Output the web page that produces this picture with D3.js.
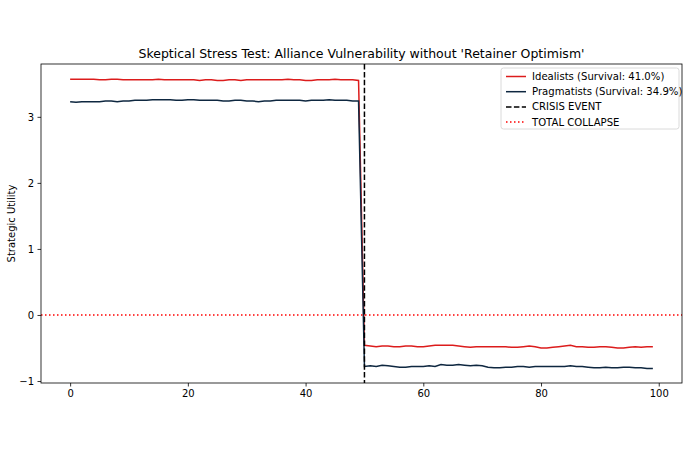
<!DOCTYPE html>
<html>
<head>
<meta charset="utf-8">
<script src="https://cdn.jsdelivr.net/npm/d3@7"></script>
<style>
body { margin: 0; background: #fff; }
text { font-family: "DejaVu Sans", sans-serif; }
</style>
</head>
<body>
<script>
var w = 690;
var h = 450;
var margin = {top: 64, right: 8, bottom: 67, left: 41};

var steps = d3.range(0, 100);
var crisisStep = 50;

var idealists = [
  3.57, 3.57, 3.57, 3.57, 3.57, 3.56, 3.56, 3.57, 3.57, 3.56,
  3.56, 3.56, 3.56, 3.56, 3.56, 3.57, 3.56, 3.56, 3.56, 3.56,
  3.56, 3.56, 3.55, 3.56, 3.56, 3.55, 3.55, 3.56, 3.56, 3.55,
  3.56, 3.56, 3.56, 3.56, 3.56, 3.56, 3.56, 3.57, 3.56, 3.56,
  3.55, 3.55, 3.56, 3.56, 3.56, 3.57, 3.56, 3.56, 3.56, 3.55,
  -0.46, -0.47, -0.48, -0.47, -0.47, -0.48, -0.48, -0.47, -0.47, -0.48,
  -0.48, -0.47, -0.46, -0.46, -0.46, -0.46, -0.47, -0.48, -0.49, -0.48,
  -0.48, -0.48, -0.48, -0.48, -0.48, -0.49, -0.49, -0.48, -0.47, -0.48,
  -0.50, -0.50, -0.49, -0.48, -0.47, -0.46, -0.48, -0.48, -0.49, -0.49,
  -0.48, -0.48, -0.49, -0.50, -0.50, -0.49, -0.48, -0.49, -0.48, -0.48
];

var pragmatists = [
  3.23, 3.22, 3.23, 3.23, 3.23, 3.23, 3.24, 3.24, 3.23, 3.24,
  3.24, 3.25, 3.25, 3.25, 3.26, 3.26, 3.26, 3.26, 3.25, 3.25,
  3.26, 3.26, 3.25, 3.25, 3.25, 3.25, 3.24, 3.24, 3.25, 3.25,
  3.24, 3.24, 3.23, 3.24, 3.24, 3.25, 3.25, 3.25, 3.25, 3.25,
  3.24, 3.25, 3.25, 3.25, 3.26, 3.25, 3.25, 3.25, 3.24, 3.24,
  -0.78, -0.77, -0.78, -0.76, -0.77, -0.78, -0.79, -0.79, -0.78, -0.78,
  -0.78, -0.77, -0.78, -0.75, -0.76, -0.76, -0.75, -0.76, -0.77, -0.76,
  -0.77, -0.79, -0.80, -0.80, -0.79, -0.79, -0.78, -0.78, -0.79, -0.78,
  -0.78, -0.78, -0.78, -0.78, -0.78, -0.77, -0.78, -0.78, -0.79, -0.80,
  -0.80, -0.79, -0.80, -0.80, -0.79, -0.79, -0.80, -0.80, -0.81, -0.81
];

var legendLabels = [
  "Idealists (Survival: 41.0%)",
  "Pragmatists (Survival: 34.9%)",
  "CRISIS EVENT",
  "TOTAL COLLAPSE"
];
var xTicks = [0, 20, 40, 60, 80, 100];
var yTicks = [-1, 0, 1, 2, 3];

var red = "#dc1c1c";
var navy = "#0e2740";

var xScale = d3.scaleLinear()
  .domain([-4.95, 103.95])
  .range([margin.left, w - margin.right]);

var yScale = d3.scaleLinear()
  .domain([-1.03, 3.80])
  .range([h - margin.bottom, margin.top]);

var svg = d3.select("body")
  .append("svg")
  .attr("width", w)
  .attr("height", h);

svg.append("clipPath").attr("id", "plot")
  .append("rect")
  .attr("x", margin.left)
  .attr("y", margin.top)
  .attr("width", w - margin.left - margin.right)
  .attr("height", h - margin.top - margin.bottom);

var plot = svg.append("g").attr("clip-path", "url(#plot)");

var line = d3.line()
  .x(function(d, i){ return xScale(steps[i]); })
  .y(function(d){ return yScale(d); });

plot.append("path")
  .datum(idealists)
  .attr("d", line)
  .attr("fill", "none")
  .attr("stroke", red)
  .attr("stroke-width", 1.5);

plot.append("path")
  .datum(pragmatists)
  .attr("d", line)
  .attr("fill", "none")
  .attr("stroke", navy)
  .attr("stroke-width", 1.5);

// crisis marker and collapse threshold
plot.append("line")
  .attr("x1", xScale(crisisStep)).attr("x2", xScale(crisisStep))
  .attr("y1", margin.top).attr("y2", h - margin.bottom)
  .attr("stroke", "#000")
  .attr("stroke-width", 1.5)
  .attr("stroke-dasharray", "5.5,2.4");

plot.append("line")
  .attr("x1", margin.left).attr("x2", w - margin.right)
  .attr("y1", yScale(0)).attr("y2", yScale(0))
  .attr("stroke", "#ff0000")
  .attr("stroke-width", 1.5)
  .attr("stroke-dasharray", "1.5,2.5");

var xAxis = d3.axisBottom(xScale).tickValues(xTicks).tickSize(3.5).tickPadding(3.5);
var yAxis = d3.axisLeft(yScale).tickValues(yTicks).tickSize(3.5).tickPadding(3.5)
  .tickFormat(function(d){ return d < 0 ? "\u2212" + Math.abs(d) : d; });

var gx = svg.append("g")
  .attr("transform", "translate(0," + (h - margin.bottom) + ")")
  .call(xAxis);
var gy = svg.append("g")
  .attr("transform", "translate(" + margin.left + ",0)")
  .call(yAxis);

[gx, gy].forEach(function(g){
  g.select(".domain").remove();
  g.selectAll("text").attr("font-size", "10px").attr("fill", "#000")
    .attr("font-family", "DejaVu Sans, sans-serif");
  g.selectAll("line").attr("stroke", "#000").attr("stroke-width", 0.8);
});

svg.append("rect")
  .attr("x", margin.left)
  .attr("y", margin.top)
  .attr("width", w - margin.left - margin.right)
  .attr("height", h - margin.top - margin.bottom)
  .attr("fill", "none")
  .attr("stroke", "#000")
  .attr("stroke-width", 0.8);

svg.append("text")
  .attr("x", (margin.left + w - margin.right) / 2)
  .attr("y", 58)
  .attr("text-anchor", "middle")
  .attr("font-size", "12.5px")
  .text("Skeptical Stress Test: Alliance Vulnerability without 'Retainer Optimism'");

svg.append("text")
  .attr("transform", "translate(15," + ((margin.top + h - margin.bottom) / 2) + ") rotate(-90)")
  .attr("text-anchor", "middle")
  .attr("font-size", "10px")
  .text("Strategic Utility");

// legend
var legend = svg.append("g");
legend.append("rect")
  .attr("x", 501).attr("y", 68)
  .attr("width", 178).attr("height", 61)
  .attr("rx", 2.5)
  .attr("fill", "#fff").attr("fill-opacity", 0.8)
  .attr("stroke", "#d0d0d0").attr("stroke-width", 0.8);

var legendStyles = [
  {color: red, dash: null},
  {color: navy, dash: null},
  {color: "#000", dash: "5.5,2.4"},
  {color: "#ff0000", dash: "1.5,2.5"}
];

legend.selectAll("line")
  .data(legendLabels)
  .enter()
  .append("line")
  .attr("x1", 506).attr("x2", 526)
  .attr("y1", function(d, i){ return 76.5 + i * 15.2; })
  .attr("y2", function(d, i){ return 76.5 + i * 15.2; })
  .attr("stroke", function(d, i){ return legendStyles[i].color; })
  .attr("stroke-width", 1.5)
  .attr("stroke-dasharray", function(d, i){ return legendStyles[i].dash; });

legend.selectAll("text")
  .data(legendLabels)
  .enter()
  .append("text")
  .attr("x", 532)
  .attr("y", function(d, i){ return 80 + i * 15.2; })
  .attr("font-size", "10.1px")
  .text(function(d){ return d; });
</script>
</body>
</html>
